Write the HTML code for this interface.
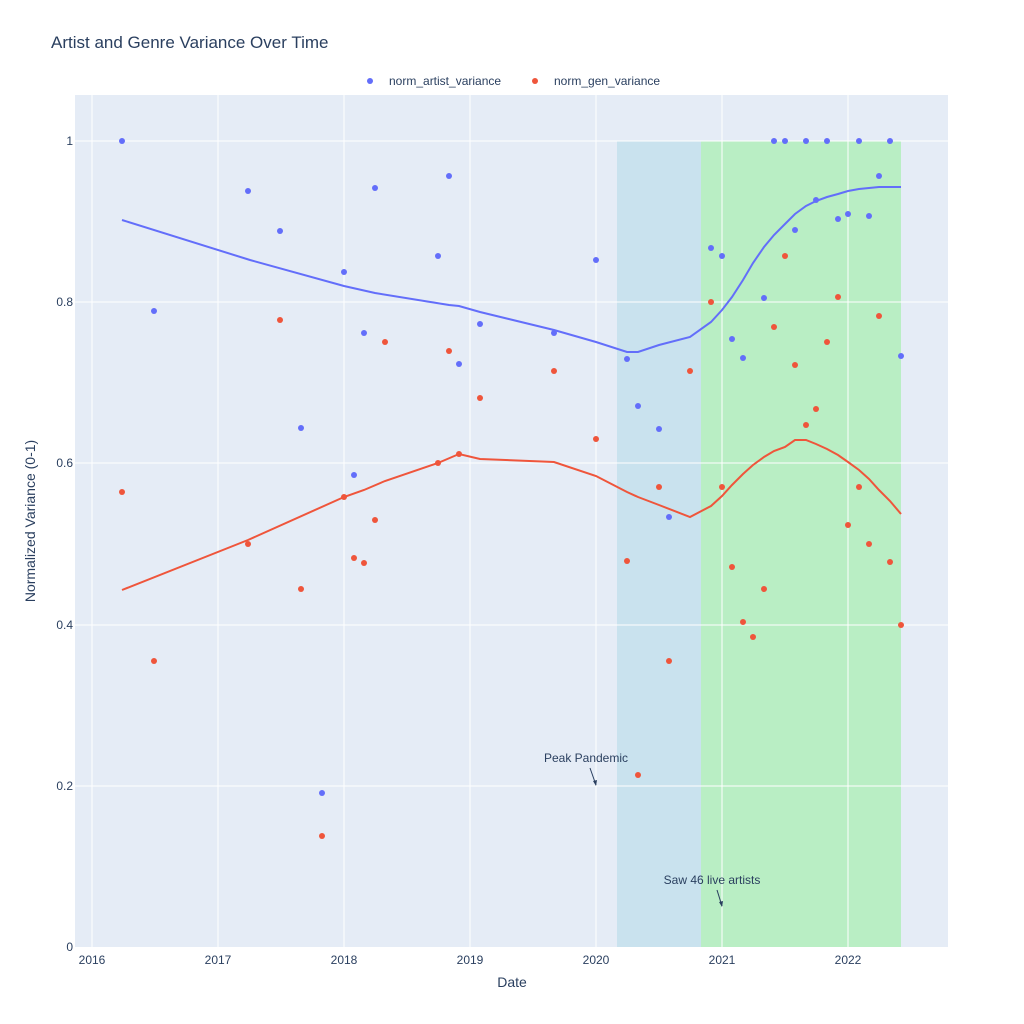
<!DOCTYPE html>
<html><head><meta charset="utf-8"><style>body{margin:0;background:#fff}svg{display:block;font-family:"Liberation Sans",sans-serif}</style></head><body>
<svg width="1024" height="1024" viewBox="0 0 1024 1024">
<rect width="1024" height="1024" fill="#fff"/>
<rect x="75" y="95" width="873" height="852" fill="#e5ecf6"/>
<rect x="617" y="141" width="84" height="806" fill="#c9e2ee"/>
<rect x="701" y="141" width="200" height="806" fill="#b9eec4"/>
<g stroke="#fff" stroke-width="1">
<line x1="75" x2="948" y1="786" y2="786"/><line x1="75" x2="948" y1="625" y2="625"/><line x1="75" x2="948" y1="463" y2="463"/><line x1="75" x2="948" y1="302" y2="302"/><line x1="75" x2="948" y1="141" y2="141"/>
<line x1="92" x2="92" y1="95" y2="947"/><line x1="218" x2="218" y1="95" y2="947"/><line x1="344" x2="344" y1="95" y2="947"/><line x1="470" x2="470" y1="95" y2="947"/><line x1="596" x2="596" y1="95" y2="947"/><line x1="722" x2="722" y1="95" y2="947"/><line x1="848" x2="848" y1="95" y2="947"/>
</g>
<g font-size="12" fill="#2a3f5f" text-anchor="end">
<text x="73" y="951">0</text><text x="73" y="790">0.2</text><text x="73" y="629">0.4</text><text x="73" y="467">0.6</text><text x="73" y="306">0.8</text><text x="73" y="145">1</text>
</g>
<g font-size="12" fill="#2a3f5f" text-anchor="middle">
<text x="92" y="964">2016</text><text x="218" y="964">2017</text><text x="344" y="964">2018</text><text x="470" y="964">2019</text><text x="596" y="964">2020</text><text x="722" y="964">2021</text><text x="848" y="964">2022</text>
</g>
<text x="512" y="987" font-size="14" fill="#2a3f5f" text-anchor="middle">Date</text>
<text transform="translate(35,521) rotate(-90)" font-size="14" fill="#2a3f5f" text-anchor="middle">Normalized Variance (0-1)</text>
<text x="51" y="48" font-size="17" fill="#2a3f5f">Artist and Genre Variance Over Time</text>
<circle cx="370" cy="81" r="3" fill="#636efa"/><text x="389" y="85" font-size="12" fill="#2a3f5f">norm_artist_variance</text>
<circle cx="535" cy="81" r="3" fill="#ef553b"/><text x="554" y="85" font-size="12" fill="#2a3f5f">norm_gen_variance</text>
<polyline fill="none" stroke="#636efa" stroke-width="2" points="122,220 250,260 344,286 375,293 449,305 459,306 480,312 554,330 596,342 627,352 638,352 659,345 690,337 711,322 722,310 732,297 743,280 753,263 764,247 774,235 785,224 795,214 806,206 816,201 827,197 838,194 848,191 859,189 869,188 879,187 890,187 901,187"/>
<polyline fill="none" stroke="#ef553b" stroke-width="2" points="122,590 248,540 344,497 364,490 385,481 438,463 459,454 480,459 554,462 596,476 627,492 638,497 659,505 690,517 711,506 722,496 732,485 743,474 753,465 764,457 774,451 785,447 795,440 806,440 816,444 827,449 838,455 848,462 859,470 869,479 879,490 890,501 901,514"/>
<g fill="#636efa">
<circle cx="122" cy="141" r="3"/><circle cx="154" cy="311" r="3"/><circle cx="248" cy="191" r="3"/><circle cx="280" cy="231" r="3"/><circle cx="301" cy="428" r="3"/><circle cx="322" cy="793" r="3"/><circle cx="344" cy="272" r="3"/><circle cx="354" cy="475" r="3"/><circle cx="364" cy="333" r="3"/><circle cx="375" cy="188" r="3"/><circle cx="438" cy="256" r="3"/><circle cx="449" cy="176" r="3"/><circle cx="459" cy="364" r="3"/><circle cx="480" cy="324" r="3"/><circle cx="554" cy="333" r="3"/><circle cx="596" cy="260" r="3"/><circle cx="627" cy="359" r="3"/><circle cx="638" cy="406" r="3"/><circle cx="659" cy="429" r="3"/><circle cx="669" cy="517" r="3"/><circle cx="711" cy="248" r="3"/><circle cx="722" cy="256" r="3"/><circle cx="732" cy="339" r="3"/><circle cx="743" cy="358" r="3"/><circle cx="764" cy="298" r="3"/><circle cx="774" cy="141" r="3"/><circle cx="785" cy="141" r="3"/><circle cx="795" cy="230" r="3"/><circle cx="806" cy="141" r="3"/><circle cx="816" cy="200" r="3"/><circle cx="827" cy="141" r="3"/><circle cx="838" cy="219" r="3"/><circle cx="848" cy="214" r="3"/><circle cx="859" cy="141" r="3"/><circle cx="869" cy="216" r="3"/><circle cx="879" cy="176" r="3"/><circle cx="890" cy="141" r="3"/><circle cx="901" cy="356" r="3"/>
</g>
<g fill="#ef553b">
<circle cx="122" cy="492" r="3"/><circle cx="154" cy="661" r="3"/><circle cx="248" cy="544" r="3"/><circle cx="280" cy="320" r="3"/><circle cx="301" cy="589" r="3"/><circle cx="322" cy="836" r="3"/><circle cx="344" cy="497" r="3"/><circle cx="354" cy="558" r="3"/><circle cx="364" cy="563" r="3"/><circle cx="375" cy="520" r="3"/><circle cx="385" cy="342" r="3"/><circle cx="438" cy="463" r="3"/><circle cx="449" cy="351" r="3"/><circle cx="459" cy="454" r="3"/><circle cx="480" cy="398" r="3"/><circle cx="554" cy="371" r="3"/><circle cx="596" cy="439" r="3"/><circle cx="627" cy="561" r="3"/><circle cx="638" cy="775" r="3"/><circle cx="659" cy="487" r="3"/><circle cx="669" cy="661" r="3"/><circle cx="690" cy="371" r="3"/><circle cx="711" cy="302" r="3"/><circle cx="722" cy="487" r="3"/><circle cx="732" cy="567" r="3"/><circle cx="743" cy="622" r="3"/><circle cx="753" cy="637" r="3"/><circle cx="764" cy="589" r="3"/><circle cx="774" cy="327" r="3"/><circle cx="785" cy="256" r="3"/><circle cx="795" cy="365" r="3"/><circle cx="806" cy="425" r="3"/><circle cx="816" cy="409" r="3"/><circle cx="827" cy="342" r="3"/><circle cx="838" cy="297" r="3"/><circle cx="848" cy="525" r="3"/><circle cx="859" cy="487" r="3"/><circle cx="869" cy="544" r="3"/><circle cx="879" cy="316" r="3"/><circle cx="890" cy="562" r="3"/><circle cx="901" cy="625" r="3"/>
</g>
<text x="586" y="762" font-size="12" fill="#2a3f5f" text-anchor="middle">Peak Pandemic</text>
<line x1="590" y1="768" x2="596" y2="785" stroke="#2a3f5f" stroke-width="1"/><path d="M596,786 l-3,-5 l4,-1z" fill="#2a3f5f"/>
<text x="712" y="884" font-size="12" fill="#2a3f5f" text-anchor="middle">Saw 46 live artists</text>
<line x1="717" y1="890" x2="722" y2="906" stroke="#2a3f5f" stroke-width="1"/><path d="M722,907 l-3,-5 l4,-1z" fill="#2a3f5f"/>
</svg>
</body></html>
